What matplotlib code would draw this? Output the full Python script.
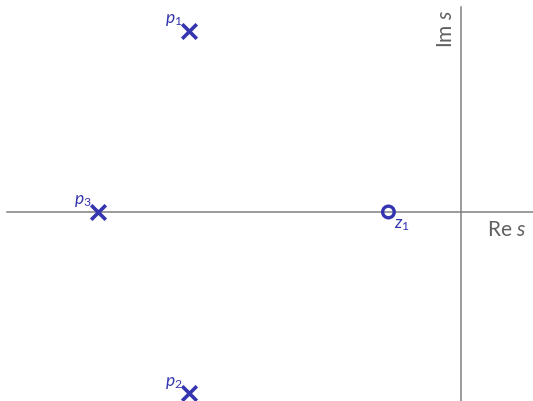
import matplotlib
matplotlib.use('Agg')
import matplotlib.pyplot as plt

plt.rcParams['font.family'] = ['Lato', 'DejaVu Sans']
plt.rcParams['mathtext.fontset'] = 'custom'
plt.rcParams['mathtext.rm'] = 'Lato'
plt.rcParams['mathtext.it'] = 'Lato:italic'

# poles and zero of the transfer function
pole_re = [-3.0, -3.0, -4.0]
pole_im = [2.0, -2.0, 0.0]
pole_labels = [r'$p_1$', r'$p_2$', r'$p_3$']
zero_re = [-0.8]
zero_im = [0.0]
zero_labels = [r'$z_1$']

blue = '#3535b0'
grey = '#808080'

fig = plt.figure(figsize=(5.33, 4.02), dpi=100)
ax = fig.add_axes([0, 0, 1, 1])
ax.set_xlim(-5.083, 0.794)
ax.set_ylim(-2.084, 2.348)
ax.axis('off')

# s-plane axes
ax.plot([-5.006, 0.794], [0, 0], color=grey, lw=1.1)
ax.plot([0, 0], [-2.084, 2.26], color=grey, lw=1.1)
ax.text(0.29, -0.19, r'Re $s$', fontsize=15, color='#606060', ha='left', va='center')
ax.text(-0.16, 2.03, r'Im $s$', fontsize=15, color='#606060', ha='center', va='center',
        rotation=90)

ax.scatter(pole_re, pole_im, marker='x', s=110, color=blue, linewidths=2.6, zorder=3)
ax.scatter(zero_re, zero_im, marker='o', s=70, facecolors='none', edgecolors=blue,
           linewidths=2.4, zorder=3)

for x, y, lab in zip(pole_re, pole_im, pole_labels):
    ax.text(x - 0.07, y + 0.04, lab, fontsize=12.5, color=blue, ha='right', va='bottom')
for x, y, lab in zip(zero_re, zero_im, zero_labels):
    ax.text(x + 0.06, y - 0.04, lab, fontsize=12.5, color=blue, ha='left', va='top')

fig.savefig('out.png', dpi=100)
